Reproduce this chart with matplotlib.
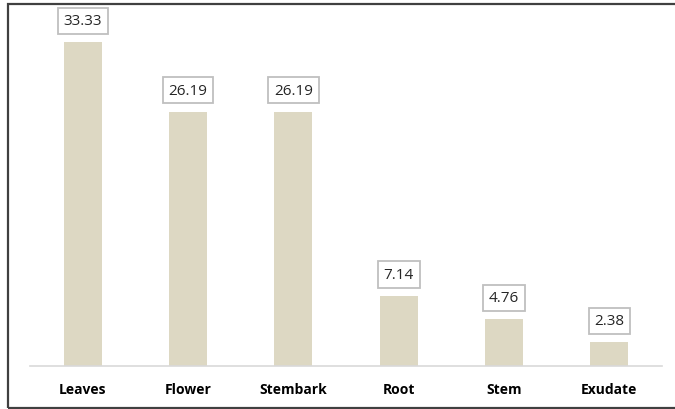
import matplotlib
matplotlib.use("Agg")
import matplotlib.pyplot as plt
from matplotlib.patches import Rectangle

CATEGORIES = ["Leaves", "Flower", "Stembark", "Root", "Stem", "Exudate"]
VALUES = [33.33, 26.19, 26.19, 7.14, 4.76, 2.38]
LABELS = ["33.33", "26.19", "26.19", "7.14", "4.76", "2.38"]

BAR_COL = "#DDD8C3"
W, H = 675, 410

plt.rcParams["font.family"] = ["Open Sans", "DejaVu Sans"]

fig = plt.figure(figsize=(W / 100, H / 100), dpi=100)
# outer frame (runs off the right edge in the reference)
fig.patches.append(Rectangle((8 / W, 1 - 409 / H), 700 / W, 404 / H,
                             transform=fig.transFigure, fill=False,
                             edgecolor="#404040", lw=1.6))

ax = fig.add_axes([30 / W, 1 - 366.5 / H, 632 / W, 346 / H])
x = range(len(CATEGORIES))
ax.bar(x, VALUES, width=0.36, color=BAR_COL)
ax.set_xlim(-0.5, len(CATEGORIES) - 0.5)
ax.set_ylim(0, 35.7)

for xi, v, lab in zip(x, VALUES, LABELS):
    ax.annotate(lab, (xi, v), textcoords="offset points", xytext=(0, 15.5),
                ha="center", va="center", fontsize=11, color="#262626",
                bbox=dict(boxstyle="square,pad=0.38", fc="white",
                          ec="#BFBFBF", lw=1.3))

ax.set_xticks(list(x))
ax.set_xticklabels(CATEGORIES, fontweight="bold", fontsize=10,
                   color="#000000")
ax.tick_params(axis="x", length=0, pad=12)
ax.set_yticks([])
for s in ["left", "right", "top"]:
    ax.spines[s].set_visible(False)
ax.spines["bottom"].set_color("#D9D9D9")
ax.spines["bottom"].set_linewidth(1.2)

fig.savefig("out.png", dpi=100)
